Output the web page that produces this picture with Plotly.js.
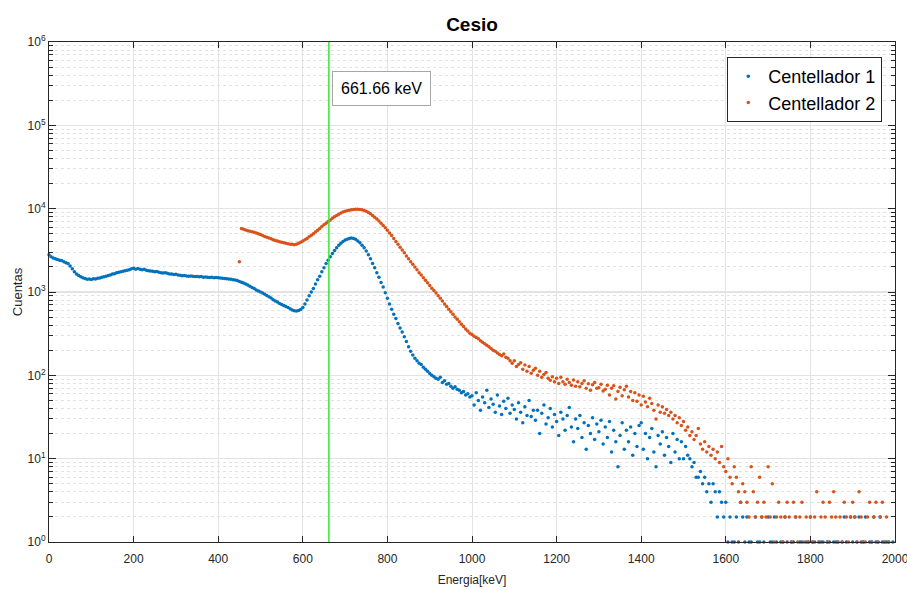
<!DOCTYPE html>
<html>
<head>
<meta charset="utf-8">
<script src="https://cdn.plot.ly/plotly-3.0.1.min.js"></script>
<style>html,body{margin:0;padding:0;background:#fff;}#chart{width:907px;height:590px;}</style>
</head>
<body>
<div id="chart"></div>
<script>
// ---- data ----
const CHANNEL_STEP = 5;          // keV between sampled channels
const X1_START = 0;              // Centellador 1 first channel (keV)
const X2_START = 450;            // Centellador 2 first channel (keV)
const PEAK_KEV = 661.66;         // Cs-137 reference line

const seriesNames = ['Centellador 1', 'Centellador 2'];

const counts1 = [
  2800,2650,2550,2500,2450,2400,2380,2300,2250,2200,
  2050,1900,1750,1650,1580,1520,1480,1450,1420,1430,
  1410,1440,1430,1460,1470,1500,1520,1550,1580,1600,
  1640,1660,1700,1720,1750,1780,1800,1830,1850,1900,
  1930,1880,1920,1870,1850,1880,1820,1800,1790,1770,
  1750,1760,1720,1700,1690,1700,1680,1650,1640,1620,
  1630,1600,1590,1570,1580,1560,1550,1560,1540,1530,
  1530,1520,1530,1500,1510,1500,1490,1500,1480,1490,
  1480,1470,1460,1450,1440,1430,1420,1400,1390,1370,
  1340,1310,1280,1250,1210,1170,1130,1100,1060,1030,
  1000,970,940,910,880,850,810,780,760,730,
  710,690,670,650,630,610,595,590,600,615,
  650,720,800,900,1000,1100,1250,1400,1550,1750,
  1950,2200,2400,2650,2900,3150,3400,3650,3850,4050,
  4200,4300,4400,4450,4400,4300,4100,3900,3650,3400,
  3100,2800,2500,2200,1950,1700,1500,1300,1150,980,
  840,720,620,540,480,420,370,330,290,255,
  220,195,175,160,150,140,135,125,118,112,
  105,100,96,92,90,95,82,86,78,80,
  74,70,73,68,66,62,64,58,60,55,
  57,44,62,50,38,55,47,66,41,52,
  45,36,58,43,34,49,40,53,35,44,
  39,30,47,36,27,42,33,50,32,38,
  29,38,20,35,44,26,31,40,24,34,
  28,19,36,30,22,33,41,24,16,30,
  23,33,18,27,13,25,20,31,17,26,
  21,29,15,24,18,28,12,22,16,8,
  19,27,13,22,16,24,11,20,14,25,
  27,13,20,10,18,23,12,8,19,15,
  21,11,18,14,9,20,12,17,10,16,
  10,14,11,10,8,9,6,6,7,5,
  6,4,5,3,5,4,2,4,3,2,
  3,1,2,1,1,2,1,3,2,1,
  2,1,1,0,2,1,1,2,1,0,
  2,1,1,2,1,0,1,1,2,1,
  0,1,1,2,0,1,1,0,1,1,
  2,1,1,0,1,1,1,0,1,1,
  0,1,1,1,0,1,2,1,0,2,
  1,2,1,2,1,1,2,0,1,1,
  2,1,1,2,1,1,1,1,0,1,
  0
];

const counts2 = [
  2300,5800,5650,5550,5450,5350,5300,5200,5100,5000,
  4900,4750,4650,4550,4450,4350,4250,4150,4100,4000,
  3950,3900,3850,3800,3750,3750,3700,3750,3850,3950,
  4100,4250,4400,4600,4800,5000,5250,5500,5800,6100,
  6400,6700,7000,7300,7650,8000,8300,8600,8850,9100,
  9300,9450,9600,9700,9800,9850,9850,9800,9700,9500,
  9300,9000,8700,8300,7900,7500,7100,6700,6300,5900,
  5500,5100,4750,4400,4050,3750,3450,3200,2950,2700,
  2500,2300,2150,2000,1850,1700,1600,1480,1380,1290,
  1200,1110,1040,970,900,840,780,720,670,620,
  580,540,500,470,440,410,385,360,340,320,
  310,295,285,275,260,250,240,230,220,210,
  200,195,185,178,172,180,165,160,150,140,
  150,128,135,142,118,133,112,128,106,115,
  122,100,112,95,102,108,92,87,96,84,
  92,80,95,84,78,90,82,76,88,74,
  84,73,80,86,70,79,66,77,82,70,
  71,78,65,68,76,58,70,75,52,64,
  72,57,67,74,55,64,50,62,49,58,
  44,56,48,42,53,46,38,30,44,36,
  42,35,39,33,36,30,33,27,31,25,
  28,22,24,19,21,17,19,23,15,13,
  16,12,14,11,13,10,12,9,14,8,
  7,10,6,5,8,6,4,3,5,4,
  3,2,8,4,2,3,6,2,3,2,
  8,2,5,1,2,3,2,1,2,3,
  2,1,3,2,1,2,3,1,2,1,
  2,1,2,4,1,2,3,2,1,3,
  2,4,2,1,2,1,3,2,1,2,
  3,2,1,4,2,1,1,2,3,1,
  2,3,1,2,3,1,2,1,0,0,
  0
];

const xTickVals = [0,200,400,600,800,1000,1200,1400,1600,1800,2000];
const yTickExps = [0,1,2,3,4,5,6];

// ---- build ----
const energies1 = counts1.map((_, i) => X1_START + i * CHANNEL_STEP);
const energies2 = counts2.map((_, i) => X2_START + i * CHANNEL_STEP);
const yTickVals = yTickExps.map(e => Math.pow(10, e));
const yTickText = yTickExps.map(e => '10<sup>' + e + '</sup>');
const yMinorVals = [];
yTickExps.slice(0, -1).forEach(e => { for (let d = 2; d <= 9; d++) yMinorVals.push(d * Math.pow(10, e)); });

const FONT = 'Liberation Sans, Arial, sans-serif';
const AXCOL = '#262626';

const traces = [
  {x: energies1, y: counts1, name: seriesNames[0], type: 'scatter', mode: 'markers',
   marker: {color: '#0072BD', size: 3.5}, cliponaxis: false},
  {x: energies2, y: counts2, name: seriesNames[1], type: 'scatter', mode: 'markers',
   marker: {color: '#D95319', size: 3.5}, cliponaxis: false}
];

const layout = {
  width: 907, height: 590,
  margin: {l: 49, r: 12, t: 42, b: 48},
  paper_bgcolor: '#ffffff', plot_bgcolor: '#ffffff',
  font: {family: FONT, size: 12, color: AXCOL},
  title: {text: '<b>Cesio</b>', x: 0.5, xref: 'paper', xanchor: 'center', y: 1 - 24/590, yref: 'container',
          yanchor: 'middle', font: {family: FONT, size: 19, color: '#000000'}},
  showlegend: true,
  legend: {x: 0.985, y: 0.97, xanchor: 'right', yanchor: 'top', bgcolor: '#ffffff',
           bordercolor: AXCOL, borderwidth: 1, font: {family: FONT, size: 18, color: '#000000'},
           tracegroupgap: 0, itemwidth: 30},
  xaxis: {
    range: [0, 2000], tickmode: 'array', tickvals: xTickVals,
    ticks: 'inside', ticklen: 6, tickcolor: AXCOL, tickwidth: 1,
    showline: true, linecolor: AXCOL, linewidth: 1, mirror: 'ticks',
    showgrid: true, gridcolor: '#e3e3e3', gridwidth: 1, zeroline: false,
    ticklabeloverflow: 'allow', ticklabelstandoff: 6,
    tickfont: {family: FONT, size: 12, color: AXCOL},
    title: {text: 'Energia[keV]', font: {family: FONT, size: 12, color: AXCOL}, standoff: 10}
  },
  yaxis: {
    type: 'log', range: [0, 6], tickmode: 'array', tickvals: yTickVals, ticktext: yTickText,
    ticks: 'inside', ticklen: 7, tickcolor: AXCOL, tickwidth: 1,
    showline: true, linecolor: AXCOL, linewidth: 1, mirror: 'ticks',
    showgrid: true, gridcolor: '#e3e3e3', gridwidth: 1.5, zeroline: false,
    ticklabeloverflow: 'allow',
    tickfont: {family: FONT, size: 12, color: AXCOL},
    minor: {tickmode: 'array', tickvals: yMinorVals, ticks: 'inside', ticklen: 4,
            tickcolor: AXCOL, showgrid: true, gridcolor: '#e2e2e2', griddash: 'dot', gridwidth: 1},
    title: {text: 'Cuentas', font: {family: FONT, size: 13, color: AXCOL}, standoff: 2}
  },
  shapes: [{type: 'line', xref: 'x', yref: 'paper', x0: PEAK_KEV, x1: PEAK_KEV, y0: 0, y1: 1,
            line: {color: '#33e633', width: 1.5}}],
  annotations: [{x: PEAK_KEV, xref: 'x', xanchor: 'left', xshift: 3,
                 y: 1 - 29/500, yref: 'paper', yanchor: 'top',
                 text: PEAK_KEV.toFixed(2) + ' keV', showarrow: false,
                 font: {family: FONT, size: 16, color: '#000000'},
                 bgcolor: '#ffffff', bordercolor: '#a6a6a6', borderwidth: 1, borderpad: 8, align: 'left'}]
};

Plotly.newPlot('chart', traces, layout, {displayModeBar: false, staticPlot: true});
</script>
</body>
</html>
